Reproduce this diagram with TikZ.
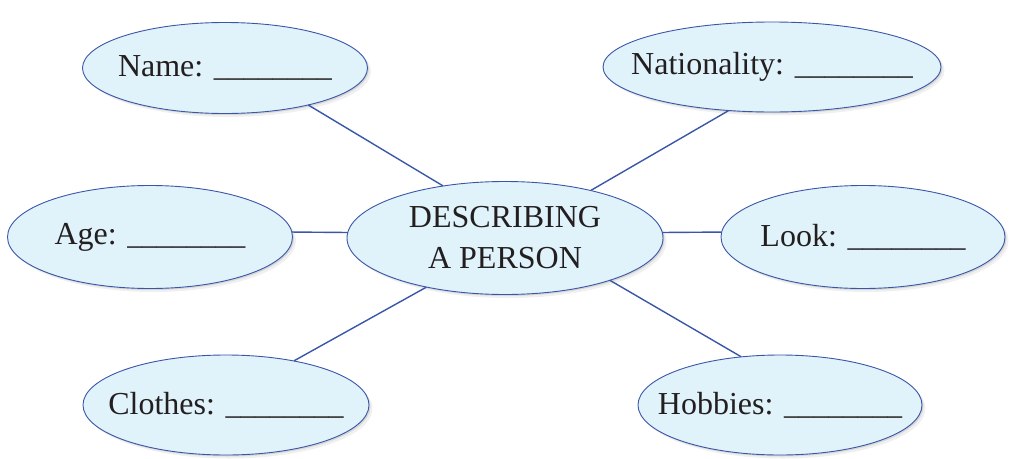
\documentclass[tikz,border=0pt]{standalone}
\usepackage{fontspec}
\setmainfont{Liberation Serif}
\usepackage{xcolor}
\usetikzlibrary{shapes.geometric,shadows}
\definecolor{bubblefill}{HTML}{E0F2FA}
\definecolor{bubbleline}{HTML}{3A56A8}
\definecolor{textdark}{HTML}{231F20}
\newcommand{\blank}{{\fontsize{29.5pt}{30pt}\selectfont\_\_\_\_\_\_\_\_}}

\begin{document}
\begin{tikzpicture}[line cap=round,line join=round,x=1pt,y=-1pt]
                \tikzset{
                    bubble/.style={ellipse,draw=bubbleline,line width=0.9pt,fill=bubblefill,inner sep=0pt,
                        drop shadow={shadow xshift=3.5pt,shadow yshift=-3.5pt,opacity=0.12},
                        drop shadow={shadow xshift=1.5pt,shadow yshift=-1.5pt,opacity=0.22}},
                    bubbletext/.style={text=textdark,font=\fontsize{32pt}{41pt}\selectfont,align=center,inner sep=0pt},
                    link/.style={draw=bubbleline,line width=1.4pt}
                }
                \useasboundingbox (0,0) rectangle (1009,458);
                % centre
                \node [bubble,minimum width=316pt,minimum height=113pt,
                    label={[bubbletext]center:DESCRIBING\\A PERSON}] (person) at (505,238) {};
                % outer bubbles
                \node [bubble,minimum width=285pt,minimum height=91pt,
                    label={[bubbletext]center:Name: \blank}] (name) at (225,68) {};
                \node [bubble,minimum width=338pt,minimum height=90pt,
                    label={[bubbletext]center:Nationality: \blank}] (nationality) at (772,67) {};
                \node [bubble,minimum width=285pt,minimum height=103pt,
                    label={[bubbletext]center:Age: \blank}] (age) at (150,237) {};
                \node [bubble,minimum width=284pt,minimum height=103pt,
                    label={[bubbletext]center:Look: \blank}] (look) at (863,237) {};
                \node [bubble,minimum width=286pt,minimum height=100pt,
                    label={[bubbletext]center:Clothes: \blank}] (clothes) at (226,405) {};
                \node [bubble,minimum width=284pt,minimum height=100pt,
                    label={[bubbletext]center:Hobbies: \blank}] (hobbies) at (780,405) {};
                % links
                \draw [link] (name.-24) -- (person.140.6);
                \draw [link] (nationality.-135) -- (person.29.3);
                \draw [link] (age.2) -- (person.178);
                \draw [link] (look.178) -- (person.2);
                \draw [link] (clothes.33) -- (person.-148.4);
                \draw [link] (hobbies.129.5) -- (person.-22.3);
\end{tikzpicture}
\end{document}
